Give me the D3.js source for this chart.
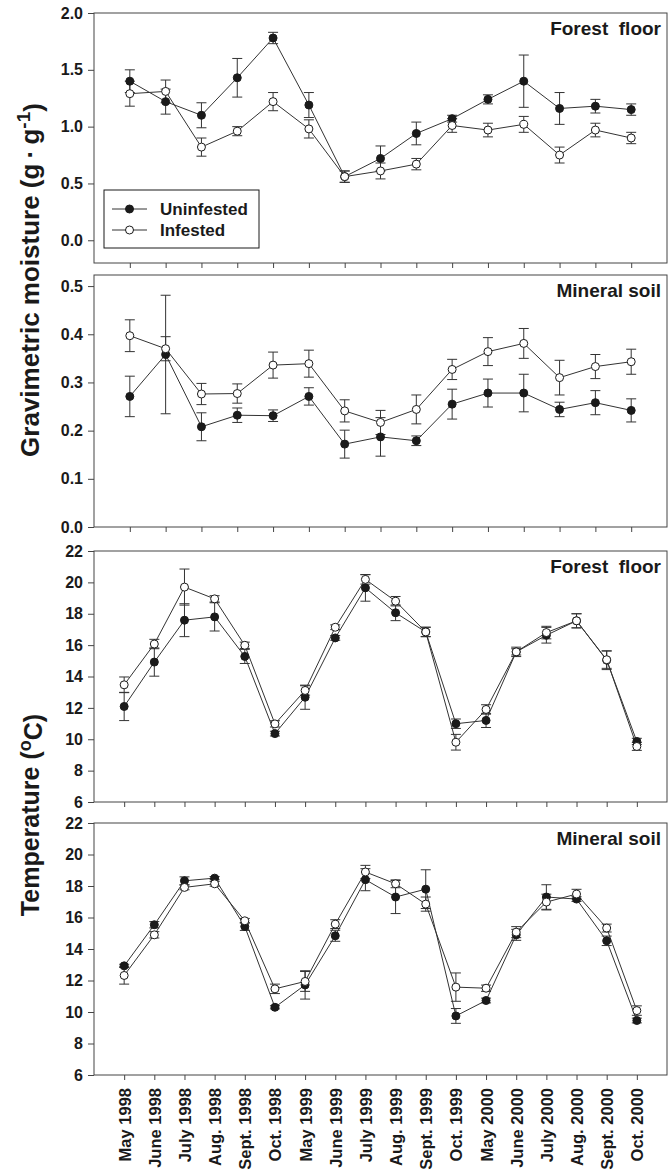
<!DOCTYPE html>
<html>
<head>
<meta charset="utf-8">
<script src="https://cdn.jsdelivr.net/npm/d3@7"></script>
<style>
  body { margin: 0; background: #fff; }
</style>
</head>
<body>
<div id="chart"></div>
<script>
// sampling dates for the temperature panels
const months = ["May 1998", "June 1998", "July 1998", "Aug. 1998", "Sept. 1998", "Oct. 1998",
  "May 1999", "June 1999", "July 1999", "Aug. 1999", "Sept. 1999", "Oct. 1999",
  "May 2000", "June 2000", "July 2000", "Aug. 2000", "Sept. 2000", "Oct. 2000"];
// moisture was sampled 15 times
const moistSamples = [1, 2, 3, 4, 5, 6, 7, 8, 9, 10, 11, 12, 13, 14, 15];

// gravimetric moisture, forest floor
const ffMoistUn   = [1.40, 1.22, 1.10, 1.43, 1.78, 1.19, 0.56, 0.72, 0.94, 1.07, 1.24, 1.40, 1.16, 1.18, 1.15];
const ffMoistUnSe = [0.10, 0.11, 0.11, 0.17, 0.05, 0.11, 0.05, 0.11, 0.10, 0.03, 0.04, 0.23, 0.14, 0.06, 0.05];
const ffMoistIn   = [1.29, 1.31, 0.82, 0.96, 1.22, 0.98, 0.56, 0.61, 0.67, 1.01, 0.97, 1.02, 0.75, 0.97, 0.90];
const ffMoistInSe = [0.11, 0.10, 0.08, 0.04, 0.08, 0.08, 0.05, 0.07, 0.05, 0.06, 0.06, 0.07, 0.07, 0.06, 0.05];

// gravimetric moisture, mineral soil
const msMoistUn   = [0.271, 0.358, 0.208, 0.232, 0.231, 0.271, 0.172, 0.187, 0.179, 0.255, 0.278, 0.278, 0.244, 0.258, 0.242];
const msMoistUnSe = [0.042, 0.123, 0.029, 0.015, 0.012, 0.018, 0.029, 0.040, 0.010, 0.031, 0.029, 0.039, 0.015, 0.025, 0.024];
const msMoistIn   = [0.397, 0.370, 0.276, 0.277, 0.336, 0.339, 0.241, 0.217, 0.244, 0.327, 0.364, 0.381, 0.310, 0.333, 0.343];
const msMoistInSe = [0.033, 0.025, 0.022, 0.020, 0.027, 0.028, 0.023, 0.025, 0.030, 0.021, 0.029, 0.031, 0.036, 0.025, 0.026];

// temperature, forest floor
const ffTempUn   = [12.09, 14.92, 17.59, 17.80, 15.28, 10.36, 12.68, 16.46, 19.65, 18.06, 16.84, 10.99, 11.20, 15.57, 16.63, 17.55, 15.04, 9.86];
const ffTempUnSe = [0.90, 0.90, 1.05, 0.90, 0.45, 0.15, 0.77, 0.15, 0.85, 0.50, 0.30, 0.30, 0.45, 0.20, 0.50, 0.45, 0.60, 0.20];
const ffTempIn   = [13.47, 16.07, 19.70, 18.95, 15.99, 10.98, 13.11, 17.14, 20.19, 18.80, 16.84, 9.81, 11.90, 15.57, 16.80, 17.55, 15.07, 9.54];
const ffTempInSe = [0.50, 0.30, 1.15, 0.20, 0.20, 0.20, 0.30, 0.15, 0.30, 0.30, 0.30, 0.50, 0.30, 0.30, 0.40, 0.45, 0.55, 0.25];

// temperature, mineral soil
const msTempUn   = [12.93, 15.54, 18.33, 18.50, 15.43, 10.30, 11.72, 14.84, 18.40, 17.30, 17.80, 9.75, 10.73, 14.90, 17.30, 17.17, 14.52, 9.46];
const msTempUnSe = [0.10, 0.20, 0.25, 0.10, 0.25, 0.10, 0.90, 0.35, 0.70, 1.05, 1.23, 0.47, 0.15, 0.35, 0.78, 0.15, 0.30, 0.15];
const msTempIn   = [12.32, 14.90, 17.91, 18.14, 15.79, 11.47, 11.94, 15.58, 18.89, 18.14, 16.85, 11.58, 11.51, 15.07, 16.98, 17.49, 15.33, 10.09];
const msTempInSe = [0.55, 0.20, 0.15, 0.15, 0.15, 0.30, 0.63, 0.28, 0.42, 0.25, 0.45, 0.90, 0.20, 0.35, 0.50, 0.30, 0.25, 0.30];

const moistTicks = [0, 0.5, 1.0, 1.5, 2.0];
const msMoistTicks = [0, 0.1, 0.2, 0.3, 0.4, 0.5];
const tempTicks = [6, 8, 10, 12, 14, 16, 18, 20, 22];

const width = 669, height = 1172;
const left = 94, right = 667;
const ink = "#1a1a1a";
const arialBold = "'Liberation Sans', Arial, sans-serif";

const svg = d3.select("#chart")
  .append("svg")
  .attr("width", width)
  .attr("height", height)
  .style("background", "#fff");

const xMoist = d3.scalePoint().domain(moistSamples).range([left, right]).padding(1);
const xTemp = d3.scalePoint().domain(months).range([left, right]).padding(1);

const panels = [
  { top: 13, bottom: 263, domain: [-0.2, 2.0], ticks: moistTicks, fmt: ".1f", x: xMoist, cats: moistSamples,
    un: ffMoistUn, unSe: ffMoistUnSe, inf: ffMoistIn, infSe: ffMoistInSe, title: "Forest\u00a0\u00a0floor", legend: true },
  { top: 275, bottom: 527, domain: [0, 0.523], ticks: msMoistTicks, fmt: ".1f", x: xMoist, cats: moistSamples,
    un: msMoistUn, unSe: msMoistUnSe, inf: msMoistIn, infSe: msMoistInSe, title: "Mineral soil" },
  { top: 551, bottom: 802, domain: [6, 22], ticks: tempTicks, fmt: "d", x: xTemp, cats: months,
    un: ffTempUn, unSe: ffTempUnSe, inf: ffTempIn, infSe: ffTempInSe, title: "Forest\u00a0\u00a0floor" },
  { top: 823, bottom: 1075, domain: [6, 22], ticks: tempTicks, fmt: "d", x: xTemp, cats: months,
    un: msTempUn, unSe: msTempUnSe, inf: msTempIn, infSe: msTempInSe, title: "Mineral soil", labels: true }
];

panels.forEach((p) => {
  const y = d3.scaleLinear().domain(p.domain).range([p.bottom, p.top]);
  const g = svg.append("g");

  // frame
  g.append("rect")
    .attr("x", left)
    .attr("y", p.top)
    .attr("width", right - left)
    .attr("height", p.bottom - p.top)
    .attr("fill", "none")
    .attr("stroke", "#444")
    .attr("stroke-width", 1);

  // y axis
  g.append("g")
    .attr("transform", `translate(${left},0)`)
    .call(d3.axisLeft(y).tickValues(p.ticks).tickSize(6).tickPadding(5).tickFormat(d3.format(p.fmt)))
    .call((a) => a.select(".domain").remove())
    .call((a) => a.selectAll(".tick line").attr("stroke", "#444"))
    .call((a) => a.selectAll(".tick text")
      .attr("fill", ink)
      .style("font-family", arialBold)
      .style("font-weight", "bold")
      .style("font-size", "16px"));

  // x axis ticks, labels only on the bottom panel
  const xa = g.append("g")
    .attr("transform", `translate(0,${p.bottom})`)
    .call(d3.axisBottom(p.x).tickSize(5).tickFormat(p.labels ? null : ""))
    .call((a) => a.select(".domain").remove())
    .call((a) => a.selectAll(".tick line").attr("stroke", "#444"));

  if (p.labels) {
    xa.selectAll(".tick text")
      .attr("transform", "rotate(-90)")
      .attr("x", -13)
      .attr("y", 0)
      .attr("dy", "0.36em")
      .attr("text-anchor", "end")
      .attr("fill", ink)
      .style("font-family", arialBold)
      .style("font-weight", "bold")
      .style("font-size", "16.5px");
  }

  // panel title
  g.append("text")
    .attr("x", 661)
    .attr("y", p.top + 22)
    .attr("text-anchor", "end")
    .attr("fill", ink)
    .style("font-family", arialBold)
    .style("font-weight", "bold")
    .style("font-size", "19px")
    .text(p.title);

  const series = [
    { vals: p.un, se: p.unSe, fill: ink },
    { vals: p.inf, se: p.infSe, fill: "#fff" }
  ];

  // error bars
  series.forEach((s) => {
    const eb = g.append("g").attr("stroke", "#333").attr("stroke-width", 1);
    s.vals.forEach((v, i) => {
      const cx = p.x(p.cats[i]);
      const y1 = y(v + s.se[i]), y2 = y(v - s.se[i]);
      eb.append("line").attr("x1", cx).attr("x2", cx).attr("y1", y1).attr("y2", y2);
      eb.append("line").attr("x1", cx - 5).attr("x2", cx + 5).attr("y1", y1).attr("y2", y1);
      eb.append("line").attr("x1", cx - 5).attr("x2", cx + 5).attr("y1", y2).attr("y2", y2);
    });
  });

  // connecting lines
  const line = d3.line()
    .x((d, i) => p.x(p.cats[i]))
    .y((d) => y(d));

  series.forEach((s) => {
    g.append("path")
      .datum(s.vals)
      .attr("d", line)
      .attr("fill", "none")
      .attr("stroke", "#333")
      .attr("stroke-width", 1);
  });

  // markers
  series.forEach((s) => {
    g.selectAll(null)
      .data(s.vals)
      .join("circle")
      .attr("cx", (d, i) => p.x(p.cats[i]))
      .attr("cy", (d) => y(d))
      .attr("r", 4)
      .attr("fill", s.fill)
      .attr("stroke", ink)
      .attr("stroke-width", 1);
  });

  // legend in the first panel
  if (p.legend) {
    const lg = g.append("g");
    lg.append("rect")
      .attr("x", 104)
      .attr("y", 190)
      .attr("width", 155)
      .attr("height", 58)
      .attr("fill", "#fff")
      .attr("stroke", ink)
      .attr("stroke-width", 1);

    [["Uninfested", ink, 209], ["Infested", "#fff", 230]].forEach(([name, fill, ly]) => {
      lg.append("line")
        .attr("x1", 112).attr("x2", 147)
        .attr("y1", ly).attr("y2", ly)
        .attr("stroke", "#333");
      lg.append("circle")
        .attr("cx", 129.5).attr("cy", ly)
        .attr("r", 4)
        .attr("fill", fill)
        .attr("stroke", ink);
      lg.append("text")
        .attr("x", 160)
        .attr("y", ly)
        .attr("dy", "0.36em")
        .attr("fill", ink)
        .style("font-family", arialBold)
        .style("font-weight", "bold")
        .style("font-size", "17px")
        .text(name);
    });
  }
});

// y axis titles
const moistTitle = svg.append("text")
  .attr("transform", "translate(39,280) rotate(-90)")
  .attr("text-anchor", "middle")
  .attr("fill", ink)
  .style("font-family", arialBold)
  .style("font-weight", "bold")
  .style("font-size", "26px");
moistTitle.append("tspan").text("Gravimetric moisture (g\u2009\u00b7\u2009g");
moistTitle.append("tspan").attr("dy", "-0.45em").style("font-size", "19px").text("-1");
moistTitle.append("tspan").attr("dy", "0.45em").text(")");

const tempTitle = svg.append("text")
  .attr("transform", "translate(39,815) rotate(-90)")
  .attr("text-anchor", "middle")
  .attr("fill", ink)
  .style("font-family", arialBold)
  .style("font-weight", "bold")
  .style("font-size", "25px");
tempTitle.append("tspan").text("Temperature (");
tempTitle.append("tspan").attr("dy", "-0.45em").style("font-size", "18px").text("o");
tempTitle.append("tspan").attr("dy", "0.45em").text("C)");
</script>
</body>
</html>
